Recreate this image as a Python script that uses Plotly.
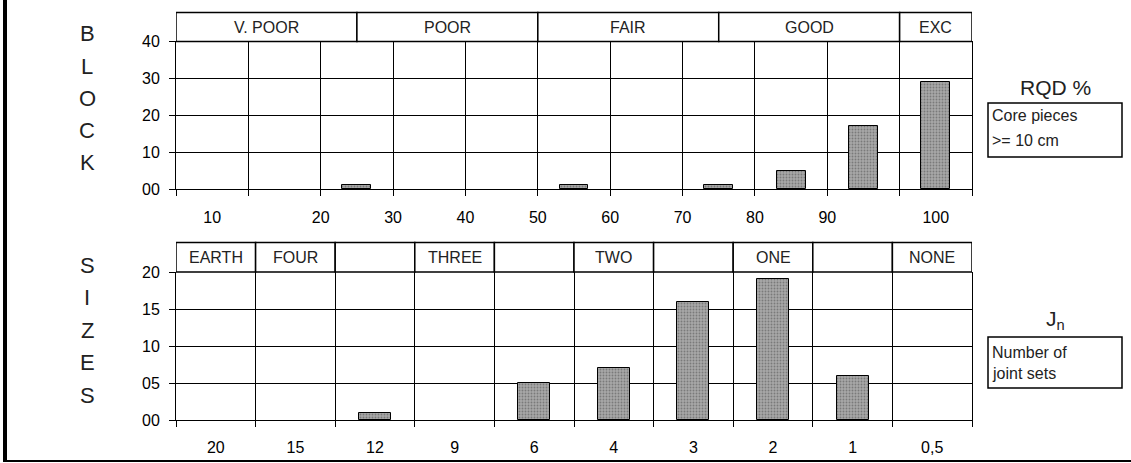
import plotly.graph_objects as go

W, H = 1131, 463

# ---------------- data ----------------
# RQD (%) chart: 11 bins on a non-linear axis
rqd_bin_pos = [1, 2, 3, 4, 5, 6, 7, 8, 9, 10, 11]
block_counts = [0, 0, 1, 0, 0, 1, 0, 1, 5, 17, 29]
rqd_tick_labels = ["10", "20", "30", "40", "50", "60", "70", "80", "90", "100"]
rqd_tick_pos = [1, 2.5, 3.5, 4.5, 5.5, 6.5, 7.5, 8.5, 9.5, 11]
rqd_classes = ["V. POOR", "POOR", "FAIR", "GOOD", "EXC"]
rqd_class_edges = [0.5, 3.0, 5.5, 8.0, 10.5, 11.5]

# Jn chart
jn_labels = ["20", "15", "12", "9", "6", "4", "3", "2", "1", "0,5"]
jn_counts = [0, 0, 1, 0, 5, 7, 16, 19, 6, 0]
jn_classes = ["EARTH", "FOUR", "", "THREE", "", "TWO", "", "ONE", "", "NONE"]

# ---------------- helpers ----------------
def fx(p):
    return p / W

def fy(p):
    return 1 - p / H

FONT = "Liberation Sans, Arial, sans-serif"
BAR_FILL = "#a8a8a8"


def bar_marker(counts):
    return dict(color=BAR_FILL,
                line=dict(color="black", width=[1 if v > 0 else 0 for v in counts]),
                pattern=dict(shape=".", fgcolor="#7a7a7a", bgcolor=BAR_FILL, size=3, solidity=0.3))


fig = go.Figure()

fig.add_trace(go.Bar(
    x=rqd_bin_pos, y=block_counts, width=0.4, marker=bar_marker(block_counts),
    xaxis="x", yaxis="y", showlegend=False, hoverinfo="skip"))

# invisible carrier trace so the RQD label axis is drawn
fig.add_trace(go.Scatter(
    x=rqd_tick_pos, y=[None] * len(rqd_tick_pos), mode="markers",
    xaxis="x3", yaxis="y", showlegend=False, hoverinfo="skip"))

fig.add_trace(go.Bar(
    x=jn_labels, y=jn_counts, width=0.4, marker=bar_marker(jn_counts),
    xaxis="x2", yaxis="y2", showlegend=False, hoverinfo="skip"))

xdom = [fx(176), fx(972)]
tickfont = dict(family=FONT, size=16, color="black")

layout = dict(
    template="none",
    width=W, height=H, autosize=False,
    margin=dict(l=0, r=0, t=0, b=0, pad=0),
    paper_bgcolor="white", plot_bgcolor="white",
    bargap=0,
    xaxis=dict(domain=xdom, anchor="y", range=[0.5, 11.5], automargin=False,
               tickmode="array", tickvals=[i + 0.5 for i in range(0, 12)],
               showticklabels=False, ticks="outside", ticklen=6, tickcolor="black",
               showgrid=True, gridcolor="black", gridwidth=1,
               showline=True, linecolor="black", linewidth=1, zeroline=False),
    xaxis3=dict(domain=xdom, overlaying="x", anchor="y", range=[0.5, 11.5], automargin=False,
                tickmode="array", tickvals=rqd_tick_pos, ticktext=rqd_tick_labels,
                ticks="", showgrid=False, showline=False, zeroline=False,
                showticklabels=True, tickfont=tickfont, ticklabelstandoff=17, side="bottom"),
    yaxis=dict(domain=[fy(189), fy(41)], anchor="x", range=[0, 40], automargin=False,
               tickmode="array", tickvals=[0, 10, 20, 30, 40],
               ticktext=["00", "10", "20", "30", "40"],
               ticks="outside", ticklen=6, tickcolor="black",
               showgrid=True, gridcolor="black", gridwidth=1,
               showline=True, linecolor="black", linewidth=1, mirror=True,
               zeroline=False, tickfont=tickfont, ticklabelstandoff=6),
    xaxis2=dict(domain=xdom, anchor="y2", type="category", automargin=False,
                categoryorder="array", categoryarray=jn_labels,
                range=[-0.5, len(jn_labels) - 0.5],
                tickson="boundaries", ticks="outside", ticklen=6, tickcolor="black",
                showgrid=True, gridcolor="black", gridwidth=1,
                showline=True, linecolor="black", linewidth=1, zeroline=False,
                tickfont=tickfont, ticklabelstandoff=13),
    yaxis2=dict(domain=[fy(420), fy(272)], anchor="x2", range=[0, 20], automargin=False,
                tickmode="array", tickvals=[0, 5, 10, 15, 20],
                ticktext=["00", "05", "10", "15", "20"],
                ticks="outside", ticklen=6, tickcolor="black",
                showgrid=True, gridcolor="black", gridwidth=1,
                showline=True, linecolor="black", linewidth=1, mirror=True,
                zeroline=False, tickfont=tickfont, ticklabelstandoff=6),
)
fig.update_layout(**layout)

shapes = []
annotations = []

# RQD class header boxes
for i, name in enumerate(rqd_classes):
    x0, x1 = rqd_class_edges[i], rqd_class_edges[i + 1]
    shapes.append(dict(type="rect", xref="x", yref="paper", x0=x0, x1=x1,
                       y0=fy(41.5), y1=fy(12.5), line=dict(color="black", width=1.5),
                       fillcolor="white", layer="above"))
    annotations.append(dict(xref="x", yref="paper", x=(x0 + x1) / 2, y=fy(27),
                            text=name, showarrow=False, xanchor="center", yanchor="middle",
                            font=dict(family=FONT, size=16, color="#222")))

# Jn class header boxes
for i, name in enumerate(jn_classes):
    shapes.append(dict(type="rect", xref="x2", yref="paper", x0=i - 0.5, x1=i + 0.5,
                       y0=fy(272), y1=fy(242.5), line=dict(color="black", width=1.5),
                       fillcolor="white", layer="above"))
    if name:
        annotations.append(dict(xref="x2", yref="paper", x=i, y=fy(257),
                                text=name, showarrow=False, xanchor="center", yanchor="middle",
                                font=dict(family=FONT, size=16, color="#222")))

# vertical side titles
for i, ch in enumerate("BLOCK"):
    annotations.append(dict(xref="paper", yref="paper", x=fx(87), y=fy(34 + i * 32.2),
                            text=ch, showarrow=False, xanchor="center", yanchor="middle",
                            font=dict(family=FONT, size=22, color="#222")))
for i, ch in enumerate("SIZES"):
    annotations.append(dict(xref="paper", yref="paper", x=fx(87), y=fy(265 + i * 32.5),
                            text=ch, showarrow=False, xanchor="center", yanchor="middle",
                            font=dict(family=FONT, size=22, color="#222")))

# right-hand legend boxes
annotations.append(dict(xref="paper", yref="paper", x=fx(1055), y=fy(87), text="RQD %",
                        showarrow=False, xanchor="center", yanchor="middle",
                        font=dict(family=FONT, size=21, color="#222")))
shapes.append(dict(type="rect", xref="paper", yref="paper", x0=fx(988), x1=fx(1122),
                   y0=fy(157), y1=fy(103), line=dict(color="black", width=1.5)))
annotations.append(dict(xref="paper", yref="paper", x=fx(990), y=fy(116), text="Core pieces",
                        showarrow=False, xanchor="left", yanchor="middle",
                        font=dict(family=FONT, size=16, color="#222")))
annotations.append(dict(xref="paper", yref="paper", x=fx(990), y=fy(140), text="&gt;= 10 cm",
                        showarrow=False, xanchor="left", yanchor="middle",
                        font=dict(family=FONT, size=16, color="#222")))

annotations.append(dict(xref="paper", yref="paper", x=fx(1055), y=fy(320), text="J<sub>n</sub>",
                        showarrow=False, xanchor="center", yanchor="middle",
                        font=dict(family=FONT, size=21, color="#222")))
shapes.append(dict(type="rect", xref="paper", yref="paper", x0=fx(988), x1=fx(1122),
                   y0=fy(388), y1=fy(337), line=dict(color="black", width=1.5)))
annotations.append(dict(xref="paper", yref="paper", x=fx(990), y=fy(352), text="Number of",
                        showarrow=False, xanchor="left", yanchor="middle",
                        font=dict(family=FONT, size=16, color="#222")))
annotations.append(dict(xref="paper", yref="paper", x=fx(990), y=fy(373), text="joint sets",
                        showarrow=False, xanchor="left", yanchor="middle",
                        font=dict(family=FONT, size=16, color="#222")))

# outer frame (left thick border and bottom rule)
shapes.append(dict(type="line", xref="paper", yref="paper", x0=fx(5), x1=fx(5),
                   y0=fy(462), y1=1, line=dict(color="black", width=4)))
shapes.append(dict(type="line", xref="paper", yref="paper", x0=fx(3), x1=1,
                   y0=fy(461), y1=fy(461), line=dict(color="black", width=2)))

fig.update_layout(shapes=shapes, annotations=annotations)

fig.write_html("out.html", config={"displayModeBar": False},
               post_script="document.body.style.margin='0';document.body.style.overflow='hidden';")
